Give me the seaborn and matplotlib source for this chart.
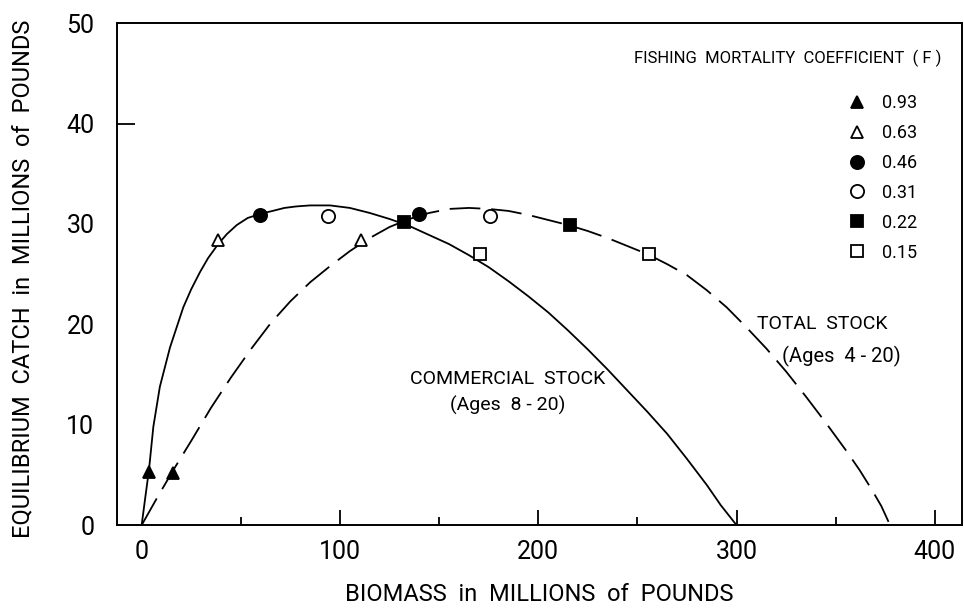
import numpy as np
import pandas as pd
import matplotlib
matplotlib.use("Agg")
import matplotlib.pyplot as plt
from matplotlib.lines import Line2D
from matplotlib import font_manager as fm
import seaborn as sns

# ---- data ----
f_values = ["0.93", "0.63", "0.46", "0.31", "0.22", "0.15"]
f_markers = ["^", "^", "o", "o", "s", "s"]
f_filled = [True, False, True, False, True, False]

# equilibrium points (biomass, catch) per F
comm_biomass = [3.7, 38.5, 59.7, 93.8, 132.3, 170.6]
comm_catch = [5.3, 28.4, 30.9, 30.8, 30.2, 27.0]
total_biomass = [15.6, 110.6, 140.0, 175.6, 216.0, 255.8]
total_catch = [5.2, 28.4, 31.0, 30.8, 29.9, 27.0]

# curves
comm_curve_x = [0, 1.0, 2.0, 3.7, 5.9, 9.2, 14.3, 21.0, 25.0, 29.4, 33.5, 38.6, 43.0,
                48.0, 53.5, 59.7, 66.0, 72.0, 78.0, 85.0, 95.0, 105.0, 115.0, 125.0,
                135.0, 145.0, 155.0, 165.0, 175.0, 185.0, 195.0, 205.0, 215.0, 225.0,
                235.0, 245.0, 255.0, 265.0, 275.0, 285.0, 292.0, 300.0]
comm_curve_y = [0, 1.5, 3.0, 5.5, 9.8, 13.8, 17.7, 21.7, 23.5, 25.2, 26.6, 28.0, 29.0,
                29.9, 30.6, 31.0, 31.3, 31.6, 31.75, 31.85, 31.85, 31.6, 31.1, 30.5,
                29.8, 28.9, 28.0, 26.9, 25.7, 24.3, 22.8, 21.2, 19.4, 17.5,
                15.5, 13.4, 11.3, 9.1, 6.6, 4.0, 2.0, 0]
total_curve_x = [0, 8, 16, 25, 35, 45, 55, 65, 75, 85, 95, 105, 115, 125, 135, 145,
                 155, 165, 175, 185, 195, 205, 215, 225, 235, 245, 255, 265, 275, 285,
                 295, 305, 315, 325, 335, 345, 355, 362, 368, 373, 377.4]
total_curve_y = [0, 2.8, 5.5, 8.4, 11.7, 14.7, 17.5, 20.1, 22.3, 24.2, 25.8, 27.3,
                 28.6, 29.7, 30.5, 31.1, 31.5, 31.6, 31.5, 31.3, 30.9, 30.4, 29.9,
                 29.3, 28.6, 27.8, 27.0, 26.0, 24.9, 23.4, 21.7, 19.7, 17.6, 15.3,
                 12.8, 10.2, 7.5, 5.5, 3.6, 1.9, 0]

x_ticks = [0, 100, 200, 300, 400]
x_minor = [50, 150, 250, 350]
y_ticks = [0, 10, 20, 30, 40, 50]

# ---- styling ----
sns.set_theme(style="ticks")
names = {f.name for f in fm.fontManager.ttflist}
fam = "Roboto" if "Roboto" in names else "DejaVu Sans"
plt.rcParams["font.family"] = [fam, "DejaVu Sans"]
plt.rcParams["axes.linewidth"] = 1.4
plt.rcParams["text.color"] = "black"
plt.rcParams["axes.labelcolor"] = "black"
plt.rcParams["xtick.color"] = "black"
plt.rcParams["ytick.color"] = "black"
plt.rcParams["axes.edgecolor"] = "black"

fig = plt.figure(figsize=(9.64, 6.10), dpi=100)
ax = fig.add_axes([0.121, 0.139, 0.877, 0.823])

comm_df = pd.DataFrame({"x": comm_curve_x, "y": comm_curve_y})
total_df = pd.DataFrame({"x": total_curve_x, "y": total_curve_y})
sns.lineplot(data=comm_df, x="x", y="y", sort=False, color="black", lw=1.3, ax=ax)
sns.lineplot(data=total_df, x="x", y="y", sort=False, color="black", lw=1.3, ax=ax)
ax.lines[-1].set_dashes((17, 6))

for i in range(len(f_values)):
    fc = "black" if f_filled[i] else "white"
    ms = 9.5 if f_markers[i] == "o" else 8.5
    for bx, cy in ((comm_biomass[i], comm_catch[i]), (total_biomass[i], total_catch[i])):
        ax.plot([bx], [cy], marker=f_markers[i], ms=ms, mfc=fc, mec="black",
                mew=1.3, ls="none", zorder=5)

ax.set_xlim(-12.6, 413.7)
ax.set_ylim(0, 50)
ax.set_xticks(x_ticks)
ax.set_xticks(x_minor, minor=True)
ax.set_yticks(y_ticks)
ax.tick_params(axis="x", which="major", direction="in", length=11, width=1.3,
               labelsize=18, pad=11)
ax.tick_params(axis="x", which="minor", direction="in", length=5.5, width=1.3)
ax.tick_params(axis="y", which="major", direction="in", length=0, width=1.3,
               labelsize=18, pad=16)
ax.xaxis.get_major_ticks()[0].tick1line.set_visible(False)
yt = ax.yaxis.get_major_ticks()[4].tick1line
yt.set_markersize(13)
for s in ax.spines.values():
    s.set_visible(True)
    s.set_color("black")

ax.set_xlabel("BIOMASS  in  MILLIONS  of  POUNDS", fontsize=17, va="center")
ax.xaxis.set_label_coords(0.5, -0.139)
ax.set_ylabel("EQUILIBRIUM  CATCH  in  MILLIONS  of  POUNDS", fontsize=17, va="center")
ax.yaxis.set_label_coords(-0.111, 0.49)

ax.text(0.3475, 0.291, "COMMERCIAL  STOCK", transform=ax.transAxes, fontsize=14,
        ha="left", va="center")
ax.text(0.3945, 0.238, "(Ages  8 - 20)", transform=ax.transAxes, fontsize=14,
        ha="left", va="center")
ax.text(0.758, 0.400, "TOTAL  STOCK", transform=ax.transAxes, fontsize=14,
        ha="left", va="center")
ax.text(0.787, 0.336, "(Ages  4 - 20)", transform=ax.transAxes, fontsize=14.5,
        ha="left", va="center")

fig.text(788 / 964, 1 - 58 / 610, "FISHING  MORTALITY  COEFFICIENT  ( F )",
         fontsize=12, ha="center", va="center")

handles = [Line2D([], [], marker=f_markers[i], ls="none", mec="black", mew=1.3,
                  mfc=("black" if f_filled[i] else "white"),
                  ms=(9.5 if f_markers[i] == "o" else 8.5))
           for i in range(len(f_values))]
leg = ax.legend(handles, f_values, loc="upper left",
                bbox_to_anchor=(848 / 964, 1 - 94 / 610), bbox_transform=fig.transFigure,
                frameon=False, fontsize=13, handlelength=1.0, handletextpad=0.9,
                labelspacing=0.66, borderpad=0, borderaxespad=0)

fig.savefig("out.png", dpi=100)
